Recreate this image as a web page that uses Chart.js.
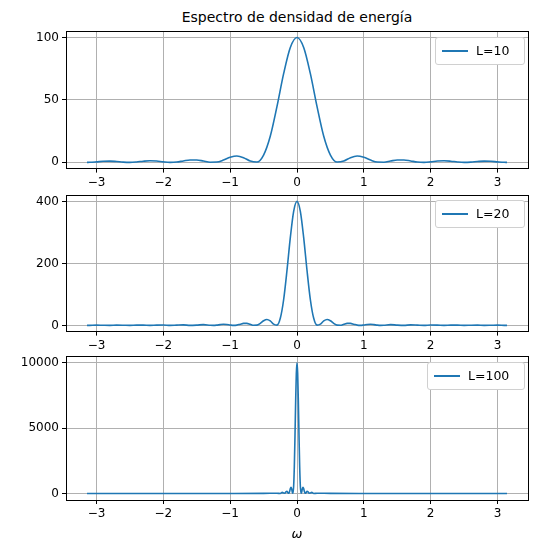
<!DOCTYPE html>
<html><head><meta charset="utf-8">
<script src="https://cdn.jsdelivr.net/npm/chart.js@4"></script>
<style>
body{margin:0;width:539px;height:546px;background:#fff;position:relative;font-family:"DejaVu Sans",sans-serif;overflow:hidden}
.c{position:absolute;left:0;width:539px}
.title{position:absolute;top:9px;left:66px;width:462px;text-align:center;font-size:14px}
.leg{position:absolute;border:1px solid #d0d0d0;border-radius:3px;background:#fff;font-size:12.5px;height:26px;line-height:26px}
.leg span.l{position:absolute;left:6px;top:12px;width:26px;height:2px;background:#1f77b4}
.leg span.t{position:absolute;left:40px}
</style></head><body>
<div class="title">Espectro de densidad de energía</div>
<div class="c" style="top:21px;height:172px"><canvas id="c1"></canvas></div>
<div class="c" style="top:185px;height:171px"><canvas id="c2"></canvas></div>
<div class="c" style="top:346px;height:200px"><canvas id="c3"></canvas></div>
<div class="leg" style="left:435px;top:37px;width:88px"><span class="l"></span><span class="t">L=10</span></div>
<div class="leg" style="left:435px;top:200px;width:88px"><span class="l"></span><span class="t">L=20</span></div>
<div class="leg" style="left:427px;top:362px;width:96px"><span class="l"></span><span class="t">L=100</span></div>
<script>
const w10 = [0,0.1,0.2,0.3,0.4,0.5,0.6,0.7,0.8,0.9,1.0,1.1,1.2,1.3,1.4,1.5,1.6,1.7,1.8,1.9,2.0,2.1,2.2,2.3,2.4,2.5,2.6,2.7,2.8,2.9,3.0,3.1,3.1416];
const e10 = [100,92,71,44.6,20.9,5.85,0.23,1.05,3.78,5.05,4.0,1.82,0.24,0.13,1.04,1.89,1.9,1.13,0.28,0.01,0.42,1.03,1.26,0.92,0.33,0,0.19,0.67,1.01,0.88,0.42,0.04,0];
const w20 = [0,0.05,0.1,0.15,0.2,0.25,0.3,0.35,0.4,0.45,0.5,0.55,0.6,0.65,0.7,0.75,0.8,0.85,0.9,0.95,1.0,1.05,1.1,1.15,1.2,1.25,1.3,1.4,1.5,1.6,1.7,1.8,1.9,2.0,2.1,2.2,2.3,2.4,2.5,2.6,2.7,2.8,2.9,3.0,3.1,3.1416];
const e20 = [400,368,283,177,82.7,22.9,0.9,4.0,14.5,19.2,15,6.7,0.9,0.45,3.7,6.6,6.5,3.75,0.9,0.03,1.3,3.1,3.6,2.6,0.9,0,0.48,2.37,0.91,0.16,1.64,0.92,0.03,1.18,0.93,0,0.86,0.94,0.02,0.63,0.96,0.08,0.45,0.98,0.16,0];
const w100 = [0,0.01,0.02,0.03,0.04,0.05,0.06,0.07,0.08,0.09,0.10,0.11,0.12,0.13,0.14,0.15,0.16,0.17,0.18,0.2,0.22,0.25,0.3,0.5,1.0,2.0,3.1416];
const e100 = [10000,9194,7081,4422,2067,573,22,100,358,472,368,165,22,11,88,156,153,88,21,30,83,0,20,5,2,1,0];
const xTicks = [-3,-2,-1,0,1,2,3];
const yTicks1 = [0,50,100], yTicks2 = [0,200,400], yTicks3 = [0,5000,10000];

function pts(w,e){const a=[];for(let i=w.length-1;i>0;i--)a.push({x:-w[i],y:e[i]});for(let i=0;i<w.length;i++)a.push({x:w[i],y:e[i]});return a;}
const frame={id:'frame',afterDraw(c){const a=c.chartArea,x=c.ctx;x.save();x.strokeStyle='#000';x.lineWidth=1;x.strokeRect(Math.round(a.left)+0.5,Math.round(a.top)+0.5,Math.round(a.right-a.left),Math.round(a.bottom-a.top));x.restore();}};
function make(id,w,e,ymin,ymax,yt,xlabel){
 new Chart(document.getElementById(id),{type:'line',
  data:{datasets:[{data:pts(w,e),borderColor:'#1f77b4',borderWidth:1.6,pointRadius:0,tension:0.4,cubicInterpolationMode:'monotone',fill:false}]},
  options:{responsive:true,maintainAspectRatio:false,animation:false,
   layout:{padding:{top:5,right:11,left:0,bottom:0}},
   plugins:{legend:{display:false},tooltip:{enabled:false}},
   scales:{
    x:{type:'linear',min:-3.456,max:3.456,afterBuildTicks(s){s.ticks=xTicks.map(v=>({value:v}));},
      grid:{color:'#b0b0b0',tickLength:4,tickColor:'#000'},border:{color:'#000'},
      ticks:{color:'#000',font:{family:'DejaVu Sans',size:12},maxRotation:0,callback:v=>String(v).replace('-','\u2212')},
      title:{display:!!xlabel,text:xlabel||'',color:'#000',font:{family:'DejaVu Sans',size:13,style:'italic'},padding:{top:2}}},
    y:{min:ymin,max:ymax,afterBuildTicks(s){s.ticks=yt.map(v=>({value:v}));},afterFit(s){s.width=66;},
      grid:{color:'#b0b0b0',tickLength:4,tickColor:'#000'},border:{color:'#000'},
      ticks:{color:'#000',font:{family:'DejaVu Sans',size:12},callback:v=>String(v)}}
   }},plugins:[frame]});
}
make('c1',w10,e10,-5,105,yTicks1);
make('c2',w20,e20,-20,420,yTicks2);
make('c3',w100,e100,-500,10500,yTicks3,'ω');
</script></body></html>
